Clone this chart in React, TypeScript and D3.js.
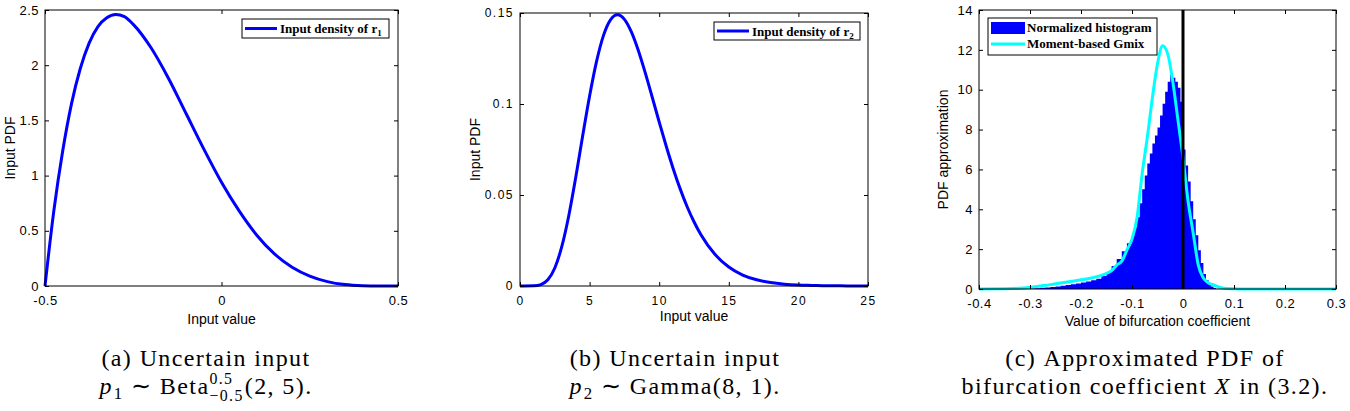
import { useEffect, useRef } from "react";
import * as d3 from "d3";

// (a) input density of r1 (Beta on [-0.5, 0.5])
const betaX = [-0.5, -0.475, -0.45, -0.425, -0.4, -0.375, -0.35, -0.325, -0.3, -0.275, -0.25, -0.2, -0.15, -0.1, -0.05, 0, 0.05, 0.1, 0.15, 0.2, 0.25, 0.3, 0.35, 0.4, 0.45, 0.5];
const betaPdf = [0, 0.68, 1.22, 1.65, 1.97, 2.2, 2.35, 2.43, 2.46, 2.44, 2.37, 2.16, 1.88, 1.56, 1.24, 0.94, 0.68, 0.46, 0.29, 0.17, 0.09, 0.04, 0.013, 0.003, 0.0003, 0];
const aXTicks = [-0.5, 0, 0.5];
const aYTicks = [0, 0.5, 1, 1.5, 2, 2.5];

// (b) input density of r2 (Gamma)
const gammaX = [0, 1, 1.5, 2, 2.5, 3, 3.5, 4, 4.5, 5, 5.5, 6, 6.5, 7, 7.5, 8, 8.5, 9, 9.5, 10, 10.5, 11, 11.5, 12, 12.5, 13, 14, 15, 16, 17, 18, 19, 20, 21, 22, 23, 24, 25];
const gammaPdf = [0, 0.0001, 0.0008, 0.0034, 0.0099, 0.0216, 0.0385, 0.0595, 0.0824, 0.1044, 0.1234, 0.1377, 0.1462, 0.149, 0.1465, 0.1396, 0.1294, 0.1171, 0.1037, 0.0901, 0.0769, 0.0646, 0.0535, 0.0437, 0.0353, 0.0281, 0.0174, 0.0104, 0.006, 0.0034, 0.0019, 0.001, 0.0005, 0.0003, 0.0001, 0.0001, 0, 0];
const bXTicks = [0, 5, 10, 15, 20, 25];
const bYTicks = [0, 0.05, 0.1, 0.15];

// (c) normalized histogram (bin left edges + density) and Gmix curve
const histEdges = [-0.31, -0.3, -0.29, -0.28, -0.27, -0.26, -0.25, -0.24, -0.23, -0.22, -0.21, -0.2, -0.19, -0.18, -0.17, -0.16, -0.15, -0.14, -0.13, -0.12, -0.11, -0.1, -0.095, -0.09, -0.085, -0.08, -0.075, -0.07, -0.065, -0.06, -0.055, -0.05, -0.045, -0.04, -0.035, -0.03, -0.025, -0.02, -0.015, -0.01, -0.005, 0, 0.005, 0.01, 0.015, 0.02, 0.025, 0.03, 0.035, 0.04, 0.045, 0.05, 0.055, 0.06, 0.065];
const histDensity = [0.02, 0.03, 0.04, 0.06, 0.08, 0.1, 0.13, 0.16, 0.2, 0.24, 0.28, 0.33, 0.38, 0.44, 0.52, 0.65, 0.85, 1.15, 1.5, 1.9, 2.3, 2.7, 3.1, 3.6, 4.3, 5.0, 5.7, 6.3, 6.8, 7.3, 7.7, 8.1, 8.7, 9.3, 9.9, 10.4, 10.74, 10.6, 10.4, 10.1, 9.4, 7.0, 6.2, 5.4, 4.4, 3.5, 2.7, 1.95, 1.3, 0.75, 0.45, 0.25, 0.12, 0.05, 0];
const gmixX = [-0.4, -0.35, -0.3, -0.28, -0.26, -0.24, -0.22, -0.2, -0.18, -0.16, -0.15, -0.14, -0.13, -0.12, -0.11, -0.1, -0.09, -0.08, -0.07, -0.06, -0.05, -0.04, -0.03, -0.02, -0.01, 0, 0.01, 0.02, 0.03, 0.04, 0.05, 0.06, 0.07, 0.08, 0.1, 0.12, 0.3];
const gmixPdf = [0, 0.01, 0.08, 0.15, 0.22, 0.3, 0.38, 0.46, 0.55, 0.68, 0.78, 0.92, 1.2, 1.4, 1.95, 2.5, 3.6, 5.8, 7.6, 9.6, 11.3, 12.2, 11.8, 10.4, 8.5, 6.6, 4.4, 2.8, 1.2, 0.55, 0.3, 0.2, 0.1, 0.04, 0.01, 0, 0];
const cXTicks = [-0.4, -0.3, -0.2, -0.1, 0, 0.1, 0.2, 0.3];
const cYTicks = [0, 2, 4, 6, 8, 10, 12, 14];

const SANS = "'Liberation Sans', Arial, sans-serif";
const SERIF = "'Liberation Serif', 'Times New Roman', serif";
const NBSP = "\u00A0";

type Piece = { t?: string; italic?: boolean; sub?: boolean; sup?: string; low?: string };

function richText(parent: any, pieces: Piece[], cx: number, y: number, fs: number) {
  const g = parent.append("g").style("font-family", SERIF).style("font-size", fs + "px").attr("letter-spacing", "1.4px");
  let x = 0;
  pieces.forEach((p) => {
    if (p.sup !== undefined) {
      const a = g.append("text").attr("x", x).attr("y", y - fs * 0.42).style("font-size", fs * 0.66 + "px").text(p.sup);
      const b = g.append("text").attr("x", x).attr("y", y + fs * 0.3).style("font-size", fs * 0.66 + "px").text(p.low);
      x += Math.max(a.node().getComputedTextLength(), b.node().getComputedTextLength()) + 1;
      return;
    }
    const s = (p.t || "").replace(/ /g, NBSP);
    const t = g.append("text").attr("x", x).attr("y", p.sub ? y + fs * 0.22 : y).text(s);
    if (p.italic) t.style("font-style", "italic");
    if (p.sub) t.style("font-size", fs * 0.7 + "px");
    x += t.node().getComputedTextLength() + (p.italic ? 1 : 0);
  });
  g.attr("transform", `translate(${cx - x / 2},0)`);
}

function axesFrame(g: any, x: any, y: any, xt: number[], yt: number[], tickFs: number, ls: number) {
  const [x0, x1] = x.range();
  const [y0, y1] = y.range();
  const fmt = (d: any) => String(d);
  const t = 4;
  const bottom = g.append("g").attr("transform", `translate(0,${y0})`)
    .call(d3.axisBottom(x).tickValues(xt).tickFormat(fmt).tickSizeInner(-t).tickSizeOuter(0).tickPadding(10));
  const top = g.append("g").attr("transform", `translate(0,${y1})`)
    .call(d3.axisTop(x).tickValues(xt).tickFormat(() => "").tickSizeInner(-t).tickSizeOuter(0));
  const left = g.append("g").attr("transform", `translate(${x0},0)`)
    .call(d3.axisLeft(y).tickValues(yt).tickFormat(fmt).tickSizeInner(-t).tickSizeOuter(0).tickPadding(6));
  const right = g.append("g").attr("transform", `translate(${x1},0)`)
    .call(d3.axisRight(y).tickValues(yt).tickFormat(() => "").tickSizeInner(-t).tickSizeOuter(0));
  [bottom, top, left, right].forEach((a) => {
    a.select(".domain").remove();
    a.selectAll("line").attr("stroke", "#000");
    a.selectAll("text").attr("fill", "#000").style("font-family", SANS).style("font-size", tickFs + "px").attr("letter-spacing", ls + "px");
  });
  g.append("rect").attr("x", x0).attr("y", y1).attr("width", x1 - x0).attr("height", y0 - y1)
    .attr("fill", "none").attr("stroke", "#000").attr("stroke-width", 1);
}

function axisLabels(g: any, x: any, y: any, xl: string, yl: string, xly: number, ylx: number) {
  const [x0, x1] = x.range();
  const [y0, y1] = y.range();
  g.append("text").attr("x", (x0 + x1) / 2).attr("y", xly).attr("text-anchor", "middle")
    .style("font-family", SANS).style("font-size", "14px").text(xl);
  g.append("text").attr("transform", `translate(${ylx},${(y0 + y1) / 2}) rotate(-90)`).attr("text-anchor", "middle")
    .style("font-family", SANS).style("font-size", "14px").text(yl);
}

function lineLegend(g: any, bx: number, by: number, bw: number, bh: number, label: string, sub: string) {
  g.append("rect").attr("x", bx).attr("y", by).attr("width", bw).attr("height", bh).attr("fill", "#fff").attr("stroke", "#000");
  g.append("line").attr("x1", bx + 3).attr("x2", bx + 35).attr("y1", by + bh / 2).attr("y2", by + bh / 2)
    .attr("stroke", "#0000ff").attr("stroke-width", 3);
  const t = g.append("text").attr("x", bx + 38).attr("y", by + bh / 2 + 4.5)
    .style("font-family", SERIF).style("font-weight", "bold").style("font-size", "13px").text(label);
  t.append("tspan").attr("dy", 3).style("font-size", "9px").text(sub);
}

export default function App() {
  const ref = useRef<SVGSVGElement>(null);

  useEffect(() => {
    const svg = d3.select(ref.current);
    svg.selectAll("*").remove();

    // ---- (a)
    const ga = svg.append("g");
    const xa = d3.scaleLinear().domain([-0.5, 0.5]).range([45, 398]);
    const ya = d3.scaleLinear().domain([0, 2.5]).range([286, 10]);
    const lineA = d3.line<number>().x((d, i) => xa(betaX[i])).y((d) => ya(d)).curve(d3.curveMonotoneX);
    ga.append("path").attr("d", lineA(betaPdf)).attr("fill", "none").attr("stroke", "#0000ff")
      .attr("stroke-width", 3).attr("stroke-linejoin", "round");
    axesFrame(ga, xa, ya, aXTicks, aYTicks, 13, 0.5);
    axisLabels(ga, xa, ya, "Input value", "Input PDF", 324, 15);
    lineLegend(ga, 242, 19, 147, 19, "Input density of r", "1");
    richText(ga, [{ t: "(a) Uncertain input" }], 206, 366, 24);
    richText(ga, [{ t: "p", italic: true }, { t: "1", sub: true }, { t: " ∼ Beta" }, { sup: "0.5", low: "−0.5" }, { t: "(2, 5)." }], 206, 394, 24);

    // ---- (b)
    const gb = svg.append("g");
    const xb = d3.scaleLinear().domain([0, 25]).range([520, 868]);
    const yb = d3.scaleLinear().domain([0, 0.15]).range([286, 13]);
    const lineB = d3.line<number>().x((d, i) => xb(gammaX[i])).y((d) => yb(d)).curve(d3.curveMonotoneX);
    gb.append("path").attr("d", lineB(gammaPdf)).attr("fill", "none").attr("stroke", "#0000ff")
      .attr("stroke-width", 3).attr("stroke-linejoin", "round");
    axesFrame(gb, xb, yb, bXTicks, bYTicks, 12, 1.5);
    axisLabels(gb, xb, yb, "Input value", "Input PDF", 321, 480);
    lineLegend(gb, 714, 22, 146, 18, "Input density of r", "2");
    richText(gb, [{ t: "(b) Uncertain input" }], 675, 366, 24);
    richText(gb, [{ t: "p", italic: true }, { t: "2", sub: true }, { t: " ∼ Gamma(8, 1)." }], 675, 394, 24);

    // ---- (c)
    const gc = svg.append("g");
    const xc = d3.scaleLinear().domain([-0.4, 0.3]).range([979, 1336]);
    const yc = d3.scaleLinear().domain([0, 14]).range([289, 10]);
    const histArea = d3.area<number>().x((d, i) => xc(histEdges[i])).y0(yc(0)).y1((d) => yc(d)).curve(d3.curveStepAfter);
    gc.append("path").attr("d", histArea(histDensity)).attr("fill", "#0000ff");
    const lineC = d3.line<number>().x((d, i) => xc(gmixX[i])).y((d) => yc(d)).curve(d3.curveMonotoneX);
    gc.append("path").attr("d", lineC(gmixPdf)).attr("fill", "none").attr("stroke", "#00ffff")
      .attr("stroke-width", 3).attr("stroke-linejoin", "round");
    gc.append("line").attr("x1", xc(0)).attr("x2", xc(0)).attr("y1", yc(0)).attr("y2", yc(14))
      .attr("stroke", "#000").attr("stroke-width", 3);
    axesFrame(gc, xc, yc, cXTicks, cYTicks, 13, 0.5);
    axisLabels(gc, xc, yc, "Value of bifurcation coefficient", "PDF approximation", 326, 948);
    // legend
    gc.append("rect").attr("x", 988).attr("y", 18).attr("width", 169).attr("height", 37).attr("fill", "#fff").attr("stroke", "#000");
    gc.append("rect").attr("x", 991).attr("y", 22).attr("width", 34).attr("height", 12).attr("fill", "#0000ff");
    gc.append("line").attr("x1", 991).attr("x2", 1025).attr("y1", 44).attr("y2", 44).attr("stroke", "#00ffff").attr("stroke-width", 3);
    gc.append("text").attr("x", 1027).attr("y", 32).style("font-family", SERIF).style("font-weight", "bold").style("font-size", "13px").text("Normalized histogram");
    gc.append("text").attr("x", 1027).attr("y", 48).style("font-family", SERIF).style("font-weight", "bold").style("font-size", "13px").text("Moment-based Gmix");
    richText(gc, [{ t: "(c) Approximated PDF of" }], 1145, 366, 24);
    richText(gc, [{ t: "bifurcation coefficient " }, { t: "X", italic: true }, { t: " in (3.2)." }], 1145, 394, 24);
  }, []);

  return (
    <div style={{ position: "absolute", left: 0, top: 0 }}>
      <svg ref={ref} width={1350} height={411} style={{ display: "block", background: "#fff" }} />
    </div>
  );
}
